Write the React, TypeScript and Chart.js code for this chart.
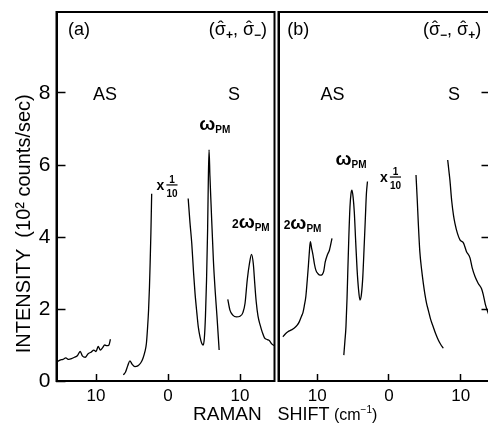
import React, { useEffect, useRef } from 'react';
import { Chart, registerables } from 'chart.js';

Chart.register(...registerables);

// ---------------- data (Raman shift in cm^-1: anti-Stokes negative, Stokes positive) ----------------
const yTickValues = [0, 2, 4, 6, 8];
const xTickValues = [-10, 0, 10];
const yMin = 0;
const yMax = 10.25;
const xRangeA = [-15.49, 14.79];
const xRangeB = [-15.41, 14.16];

// panel (a) (σ+, σ-)
const a_asBackground: [number, number][] = [
  [-15.5, 0.52], [-15.0, 0.58], [-14.6, 0.6], [-14.2, 0.64], [-13.8, 0.6], [-13.4, 0.62],
  [-13.0, 0.66], [-12.6, 0.7], [-12.2, 0.82], [-11.9, 0.7], [-11.5, 0.66], [-11.1, 0.76],
  [-10.7, 0.8], [-10.3, 0.86], [-10.0, 0.82], [-9.7, 0.96], [-9.4, 0.86], [-9.1, 0.92],
  [-8.8, 1.0], [-8.5, 0.98], [-8.2, 1.0], [-8.0, 1.16],
];
const a_asRayleighWing: [number, number][] = [
  [-6.2, 0.17], [-5.9, 0.25], [-5.6, 0.42], [-5.3, 0.56], [-5.0, 0.47], [-4.6, 0.4],
  [-4.2, 0.42], [-3.8, 0.5], [-3.5, 0.62], [-3.2, 0.82], [-3.0, 1.05], [-2.85, 1.45],
  [-2.7, 1.97], [-2.58, 2.6], [-2.48, 3.3], [-2.38, 4.1], [-2.27, 5.2],
];
const a_sRayleighOmegaPM: [number, number][] = [
  [2.8, 5.07], [3.05, 4.4], [3.3, 3.82], [3.55, 3.0], [3.75, 2.44], [4.0, 1.9], [4.2, 1.51],
  [4.45, 1.22], [4.68, 1.05], [4.9, 1.0], [5.05, 1.2], [5.2, 1.8], [5.35, 2.8], [5.5, 4.2],
  [5.6, 5.6], [5.7, 6.42], [5.82, 5.7], [5.98, 4.9], [6.3, 3.36], [6.55, 2.5], [6.8, 1.8],
  [7.1, 0.86],
];
const a_s2OmegaPM: [number, number][] = [
  [8.3, 2.27], [8.6, 1.97], [9.0, 1.83], [9.5, 1.78], [10.0, 1.8], [10.4, 1.9], [10.7, 2.16],
  [11.0, 2.8], [11.3, 3.25], [11.6, 3.52], [11.85, 3.25], [12.05, 2.7], [12.25, 2.2],
  [12.5, 1.8], [12.8, 1.55], [13.1, 1.35], [13.4, 1.2], [13.8, 1.15], [14.1, 1.12],
  [14.4, 1.03], [14.79, 0.98],
];

// panel (b) (σ-, σ+)
const b_as2OmegaPM: [number, number][] = [
  [-14.8, 1.23], [-14.5, 1.3], [-14.1, 1.37], [-13.6, 1.42], [-13.2, 1.47], [-12.8, 1.55],
  [-12.5, 1.65], [-12.2, 1.8], [-12.0, 1.9], [-11.8, 2.1], [-11.6, 2.34], [-11.4, 2.8],
  [-11.25, 3.18], [-11.1, 3.6], [-10.97, 3.87], [-10.8, 3.7], [-10.6, 3.5], [-10.4, 3.25],
  [-10.2, 3.08], [-9.9, 2.98], [-9.6, 2.94], [-9.3, 2.96], [-9.1, 3.05], [-8.9, 3.3],
  [-8.6, 3.5], [-8.3, 3.64], [-7.95, 3.96],
];
const b_asOmegaPM: [number, number][] = [
  [-6.3, 0.72], [-6.15, 1.1], [-6.0, 1.51], [-5.85, 2.3], [-5.75, 3.0], [-5.6, 4.0],
  [-5.44, 4.84], [-5.3, 5.2], [-5.16, 5.3], [-5.0, 5.1], [-4.84, 4.7], [-4.65, 3.9],
  [-4.45, 3.1], [-4.25, 2.55], [-4.05, 2.25], [-3.85, 2.4], [-3.65, 2.9], [-3.45, 3.8],
  [-3.3, 4.5], [-3.15, 5.2], [-3.0, 5.54],
];
const b_sRayleighWing: [number, number][] = [
  [3.77, 5.72], [3.95, 5.0], [4.09, 4.38], [4.3, 3.6], [4.56, 3.08], [4.8, 2.7], [5.02, 2.4],
  [5.25, 2.15], [5.48, 1.97], [5.8, 1.72], [6.18, 1.5], [6.5, 1.32], [6.88, 1.14],
  [7.2, 1.02], [7.57, 0.91],
];
const b_sSecondFeature: [number, number][] = [
  [8.19, 6.14], [8.35, 5.85], [8.5, 5.58], [8.75, 5.0], [9.0, 4.6], [9.2, 4.38], [9.55, 4.1],
  [9.9, 3.92], [10.4, 3.83], [10.8, 3.6], [11.3, 3.42], [11.6, 3.15], [12.0, 2.9],
  [12.45, 2.71], [12.9, 2.57], [13.15, 2.4], [13.45, 2.12], [13.85, 1.88], [14.16, 1.72],
];

const yAxisTitle = '     INTENSITY  (10\u00B2 counts/sec)';

// ---------------- annotation texts ----------------
type Seg = { t?: string; size: number; dy?: number; bold?: boolean; frac?: [string, string]; hat?: boolean };
type Note = { x: number; y: number; align: 'left' | 'center' | 'right'; segs: Seg[] };

const xAxisTitleSegs: Seg[] = [
  { t: 'RAMAN', size: 19 }, { t: '   ', size: 19 }, { t: 'SHIFT', size: 18 },
  { t: ' (cm', size: 16 }, { t: '\u22121', size: 10, dy: -7 }, { t: ')', size: 16 },
];

const omegaPM = (pre: string): Seg[] => {
  const s: Seg[] = [];
  if (pre) s.push({ t: pre, size: 12, bold: true });
  s.push({ t: '\u03C9', size: 19, bold: true });
  s.push({ t: 'PM', size: 10, dy: 3, bold: true });
  return s;
};
const timesTenth: Seg[] = [{ t: 'x', size: 14, bold: true, dy: 0 }, { t: ' ', size: 4 }, { frac: ['1', '10'], size: 10, bold: true }];
const sigmaPair = (first: string, second: string): Seg[] => [
  { t: '(', size: 18 }, { t: '\u03C3', size: 18, hat: true }, { t: first, size: 12, dy: 4, bold: true },
  { t: ', ', size: 18 }, { t: '\u03C3', size: 18, hat: true }, { t: second, size: 12, dy: 4, bold: true },
  { t: ')', size: 18 },
];

const notesA: Note[] = [
  { x: -13.9, y: 9.61, align: 'left', segs: [{ t: '(a)', size: 18 }] },
  { x: 13.75, y: 9.61, align: 'right', segs: sigmaPair('+', '\u2212') },
  { x: -8.75, y: 7.81, align: 'center', segs: [{ t: 'AS', size: 18 }] },
  { x: 9.17, y: 7.81, align: 'center', segs: [{ t: 'S', size: 18 }] },
  { x: 6.5, y: 6.97, align: 'center', segs: omegaPM('') },
  { x: -0.07, y: 5.31, align: 'center', segs: timesTenth },
  { x: 11.5, y: 4.25, align: 'center', segs: omegaPM('2') },
];
const notesB: Note[] = [
  { x: -14.2, y: 9.61, align: 'left', segs: [{ t: '(b)', size: 18 }] },
  { x: 4.74, y: 9.61, align: 'left', segs: sigmaPair('\u2212', '+') },
  { x: -7.88, y: 7.81, align: 'center', segs: [{ t: 'AS', size: 18 }] },
  { x: 9.07, y: 7.81, align: 'center', segs: [{ t: 'S', size: 18 }] },
  { x: -5.3, y: 6.0, align: 'center', segs: omegaPM('') },
  { x: 0.28, y: 5.53, align: 'center', segs: timesTenth },
  { x: -12.06, y: 4.22, align: 'center', segs: omegaPM('2') },
];

// ---------------- rendering helpers ----------------
const FONT = '"Liberation Sans", Arial, sans-serif';
const W = 488;
const H = 437;

const segFont = (s: Seg) => `${s.bold ? 'bold ' : ''}${s.size}px ${FONT}`;

function drawRich(ctx: CanvasRenderingContext2D, x: number, y: number, align: string, segs: Seg[]) {
  const widthOf = (s: Seg) => {
    ctx.font = segFont(s);
    if (s.frac) return Math.max(ctx.measureText(s.frac[0]).width, ctx.measureText(s.frac[1]).width) + 2;
    return ctx.measureText(s.t || '').width;
  };
  const total = segs.reduce((a, s) => a + widthOf(s), 0);
  let cx = align === 'left' ? x : align === 'right' ? x - total : x - total / 2;
  ctx.textBaseline = 'alphabetic';
  for (const s of segs) {
    const w = widthOf(s);
    ctx.font = segFont(s);
    if (s.frac) {
      ctx.textAlign = 'center';
      ctx.fillText(s.frac[0], cx + w / 2, y - 7);
      ctx.fillText(s.frac[1], cx + w / 2, y + 7);
      ctx.fillRect(cx + 1, y - 5.5, w - 2, 1.2);
    } else {
      ctx.textAlign = 'left';
      ctx.fillText(s.t || '', cx, y + (s.dy || 0));
      if (s.hat) {
        ctx.textAlign = 'center';
        ctx.fillText('\u02C6', cx + w / 2 + 0.5, y - 1);
      }
    }
    cx += w;
  }
}

const notesPlugin = (notes: Note[]) => ({
  id: 'notes',
  afterDatasetsDraw(chart: any) {
    const ctx = chart.ctx as CanvasRenderingContext2D;
    const xs = chart.scales.x;
    const ys = chart.scales.y;
    ctx.save();
    ctx.fillStyle = '#000';
    for (const n of notes) {
      drawRich(ctx, xs.getPixelForValue(n.x), ys.getPixelForValue(n.y), n.align, n.segs);
    }
    ctx.restore();
  },
});

const framePlugin = {
  id: 'frame',
  afterDraw(chart: any) {
    const { ctx, chartArea: a } = chart;
    ctx.save();
    ctx.strokeStyle = '#000';
    ctx.lineWidth = 2;
    ctx.strokeRect(a.left, a.top, a.right - a.left, a.bottom - a.top);
    ctx.restore();
  },
};

const xTitlePlugin = {
  id: 'xTitle',
  afterDraw(chart: any) {
    const ctx = chart.ctx as CanvasRenderingContext2D;
    ctx.save();
    ctx.fillStyle = '#000';
    drawRich(ctx, 193, 420, 'left', xAxisTitleSegs);
    ctx.restore();
  },
};

const zeroPad = (scale: any) => {
  scale.paddingTop = 0;
  scale.paddingBottom = 0;
  scale.paddingLeft = 0;
  scale.paddingRight = 0;
};

const lineSet = (pts: [number, number][]) => ({
  data: pts.map(([x, y]) => ({ x, y })),
  borderColor: '#000',
  borderWidth: 1.3,
  pointRadius: 0,
  fill: false,
  cubicInterpolationMode: 'monotone' as const,
});

const xScale = (range: number[], showLabels: boolean) => ({
  type: 'linear' as const,
  position: 'bottom' as const,
  min: range[0],
  max: range[1],
  afterBuildTicks: (s: any) => { s.ticks = xTickValues.map((v) => ({ value: v })); },
  afterFit: (s: any) => { s.height = 56; zeroPad(s); },
  grid: { display: true, drawOnChartArea: false, drawTicks: true, tickLength: -7, tickWidth: 1.5, tickColor: '#000' },
  border: { display: true, color: '#000', width: 2 },
  ticks: {
    display: showLabels,
    padding: 12,
    color: '#000',
    font: { family: FONT, size: 17 },
    maxRotation: 0,
    callback: (v: any) => String(Math.abs(Number(v))),
  },
});

export default function App() {
  const refA = useRef<HTMLCanvasElement | null>(null);
  const refB = useRef<HTMLCanvasElement | null>(null);

  useEffect(() => {
    const chartA = new Chart(refA.current as HTMLCanvasElement, {
      type: 'line',
      data: { datasets: [a_asBackground, a_asRayleighWing, a_sRayleighOmegaPM, a_s2OmegaPM].map(lineSet) },
      options: {
        animation: false,
        responsive: false,
        devicePixelRatio: 1,
        layout: { padding: { left: 0, top: 12, right: 213.5, bottom: 0 } },
        plugins: { legend: { display: false }, tooltip: { enabled: false }, title: { display: false } },
        scales: {
          x: xScale(xRangeA, true),
          y: {
            type: 'linear',
            position: 'left',
            min: yMin,
            max: yMax,
            afterBuildTicks: (s: any) => { s.ticks = yTickValues.map((v) => ({ value: v })); },
            afterFit: (s: any) => { s.width = 56.5; zeroPad(s); },
            grid: { display: true, drawOnChartArea: false, drawTicks: true, tickLength: -9, tickWidth: 1.5, tickColor: '#000' },
            border: { display: true, color: '#000', width: 2 },
            ticks: { padding: 15, color: '#000', font: { family: FONT, size: 21 } },
            title: {
              display: true,
              text: yAxisTitle,
              align: 'start',
              color: '#000',
              font: { family: FONT, size: 20 },
              padding: { top: 12.5, bottom: 0 },
            },
          },
        },
      },
      plugins: [notesPlugin(notesA), framePlugin, xTitlePlugin],
    } as any);

    const chartB = new Chart(refB.current as HTMLCanvasElement, {
      type: 'line',
      data: { datasets: [b_as2OmegaPM, b_asOmegaPM, b_sRayleighWing, b_sSecondFeature].map(lineSet) },
      options: {
        animation: false,
        responsive: false,
        devicePixelRatio: 1,
        layout: { padding: { left: 278.5, top: 12, right: 5.5, bottom: 0 } },
        plugins: { legend: { display: false }, tooltip: { enabled: false }, title: { display: false } },
        scales: {
          x: xScale(xRangeB, true),
          y: {
            type: 'linear',
            position: 'left',
            min: yMin,
            max: yMax,
            afterBuildTicks: (s: any) => { s.ticks = yTickValues.map((v) => ({ value: v })); },
            afterFit: (s: any) => { s.width = 0; zeroPad(s); },
            grid: { display: false },
            border: { display: true, color: '#000', width: 2 },
            ticks: { display: false },
          },
          y2: {
            type: 'linear',
            position: 'right',
            min: yMin,
            max: yMax,
            afterBuildTicks: (s: any) => { s.ticks = yTickValues.filter((v) => v > 0).map((v) => ({ value: v })); },
            afterFit: (s: any) => { s.width = 0; zeroPad(s); },
            grid: { display: true, drawOnChartArea: false, drawTicks: true, tickLength: -9, tickWidth: 1.5, tickColor: '#000' },
            border: { display: true, color: '#000', width: 2 },
            ticks: { display: false },
          },
        },
      },
      plugins: [notesPlugin(notesB), framePlugin],
    } as any);

    return () => {
      chartA.destroy();
      chartB.destroy();
    };
  }, []);

  return (
    <div style={{ position: 'fixed', left: 0, top: 0, width: W, height: H, overflow: 'hidden', background: '#fff' }}>
      <canvas ref={refA} width={W} height={H} style={{ position: 'absolute', left: 0, top: 0 }} />
      <canvas ref={refB} width={W + 8} height={H} style={{ position: 'absolute', left: 0, top: 0 }} />
    </div>
  );
}
